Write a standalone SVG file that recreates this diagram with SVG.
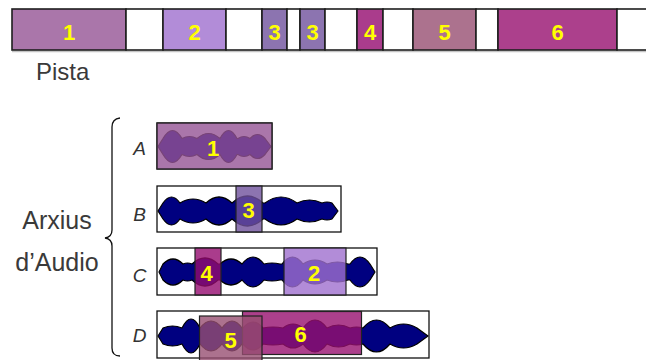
<svg xmlns="http://www.w3.org/2000/svg" width="646" height="360" viewBox="0 0 646 360">
<style>
.bar{stroke:#1e1e1e;stroke-width:1.6}
.box{fill:#fff;stroke:#111;stroke-width:1.3}
.wave{fill:#000080;stroke:#000;stroke-width:1.2;stroke-linejoin:round}
.ov{stroke:#222;stroke-width:1.2;fill-opacity:0.8}
.num{font-family:"Liberation Sans",Arial,sans-serif;font-weight:bold;font-size:22px;fill:#ffff00;text-anchor:middle}
.lbl{font-family:"Liberation Sans",Arial,sans-serif;font-style:italic;font-size:19px;fill:#333;text-anchor:middle}
.cap{font-family:"Liberation Sans",Arial,sans-serif;fill:#3a3a3a}
</style>
<rect width="646" height="360" fill="#fff"/>
<g id="pista">
<line x1="12" y1="51.5" x2="646" y2="51.5" stroke="#c4c4c4" stroke-width="1.6"/>
<rect class="bar" x="12" y="9" width="114" height="41" fill="#AA76AA"/>
<rect class="bar" x="126" y="9" width="37" height="41" fill="#fff"/>
<rect class="bar" x="163" y="9" width="63" height="41" fill="#B28CD8"/>
<rect class="bar" x="226" y="9" width="36" height="41" fill="#fff"/>
<rect class="bar" x="262" y="9" width="25" height="41" fill="#8C74B0"/>
<rect class="bar" x="287" y="9" width="13" height="41" fill="#fff"/>
<rect class="bar" x="300" y="9" width="25" height="41" fill="#8C74B0"/>
<rect class="bar" x="325" y="9" width="32" height="41" fill="#fff"/>
<rect class="bar" x="357" y="9" width="26" height="41" fill="#AA3C8C"/>
<rect class="bar" x="383" y="9" width="30" height="41" fill="#fff"/>
<rect class="bar" x="413" y="9" width="63" height="41" fill="#AC728E"/>
<rect class="bar" x="476" y="9" width="22" height="41" fill="#fff"/>
<rect class="bar" x="498" y="9" width="119" height="41" fill="#AC408C"/>
<rect class="bar" x="617" y="9" width="40" height="41" fill="#fff"/>
<text class="num" x="69" y="39.5">1</text>
<text class="num" x="194.5" y="39.5">2</text>
<text class="num" x="274.5" y="39.5">3</text>
<text class="num" x="312.5" y="39.5">3</text>
<text class="num" x="370" y="39.5">4</text>
<text class="num" x="444.5" y="39.5">5</text>
<text class="num" x="557.5" y="39.5">6</text>
<text class="cap" x="36" y="80" font-size="24">Pista</text>
</g>
<g id="arxius">
<text class="cap" x="57" y="229" font-size="25" text-anchor="middle">Arxius</text>
<text class="cap" x="57" y="271" font-size="25" text-anchor="middle">d’Audio</text>
</g>
<g id="connectors">
<path d="M120 118 Q112 119 112 127 L112 230 Q112 237 105 238 Q112 239 112 246 L112 348 Q112 356 120 356" fill="none" stroke="#111" stroke-width="1.3"/>
</g>
<g id="fileA">
<rect class="box" x="157" y="123" width="115" height="46"/>
<path class="wave" d="M158 146.5 L163 138.5 Q172.5 122.5 182 138.5 Q189.5 134.5 197 138.5 Q208.5 128.5 220 138.5 Q228.5 122.5 237 138.5 L238 138.5 Q244 134.5 250 138.5 Q257.5 130.5 265 138.5 L271 146.5 L265 154.5 Q257.5 162.5 250 154.5 Q244 158.5 238 154.5 L237 154.5 Q228.5 170.5 220 154.5 Q208.5 164.5 197 154.5 Q189.5 158.5 182 154.5 Q172.5 170.5 163 154.5 Z"/>
<rect class="ov" x="157" y="123" width="115" height="46" fill="#955495"/>
<text class="num" x="213" y="156">1</text>
<text class="lbl" x="139.5" y="154.5">A</text>
</g>
<g id="fileB">
<rect class="box" x="157" y="186" width="184" height="46"/>
<path class="wave" d="M158 211 L163 203 Q171.5 191 180 203 Q193 195 206 203 Q219 191 232 203 Q247.5 189 263 203 L265 203 Q281 191 297 203 Q309.5 197 322 203 Q327 201 332 203 L338 211 L332 219 Q327 221 322 219 Q309.5 225 297 219 Q281 231 265 219 L263 219 Q247.5 233 232 219 Q219 231 206 219 Q193 227 180 219 Q171.5 231 163 219 Z"/>
<rect class="ov" x="236" y="186" width="26" height="46" fill="#6F519C"/>
<text class="num" x="248.5" y="217.5">3</text>
<text class="lbl" x="139.5" y="220.5">B</text>
</g>
<g id="fileC">
<rect class="box" x="157" y="248" width="220" height="47"/>
<path class="wave" d="M159 272 L163 264 Q173 254 183 264 Q187.5 262 192 264 Q205 252 218 264 L220 264 Q231 254 242 264 Q253 250 264 264 Q272 262 280 264 L282 264 Q292.5 250 303 264 Q315 256 327 264 Q337.5 260 348 264 L350 264 Q360 250 370 264 L375 272 L370 280 Q360 294 350 280 L348 280 Q337.5 284 327 280 Q315 288 303 280 Q292.5 294 282 280 L280 280 Q272 282 264 280 Q253 294 242 280 Q231 290 220 280 L218 280 Q205 292 192 280 Q187.5 282 183 280 Q173 290 163 280 Z"/>
<rect class="ov" x="195" y="248" width="26" height="47" fill="#950B6F"/>
<rect class="ov" x="284" y="248" width="62" height="47" fill="#9F6FCE"/>
<text class="num" x="206.5" y="280.5">4</text>
<text class="num" x="314" y="280.5">2</text>
<text class="lbl" x="139.5" y="281.5">C</text>
</g>
<g id="fileD">
<rect class="box" x="157" y="311" width="272" height="47"/>
<path class="wave" d="M158 336 L163 328 Q172.5 324 182 328 Q191 310 200 328 Q211 314 222 328 Q232 314 242 328 L243 328 Q253 316 263 328 Q273 326 283 328 Q293 320 303 328 Q315 312 327 328 Q338.5 322 350 328 Q356.5 326 363 328 Q376.5 312 390 328 Q403.5 320 417 328 L428 336 L417 344 Q403.5 352 390 344 Q376.5 360 363 344 Q356.5 346 350 344 Q338.5 350 327 344 Q315 360 303 344 Q293 352 283 344 Q273 346 263 344 Q253 356 243 344 L242 344 Q232 358 222 344 Q211 358 200 344 Q191 362 182 344 Q172.5 348 163 344 Z"/>
<rect class="ov" x="242.5" y="311.5" width="119" height="43" fill="#97106F"/>
<rect class="ov" x="199.5" y="316" width="62.5" height="46" fill="#974F72"/>
<text class="num" x="230.5" y="347.5">5</text>
<text class="num" x="300.5" y="341.5">6</text>
<text class="lbl" x="139.5" y="342">D</text>
</g>
</svg>
